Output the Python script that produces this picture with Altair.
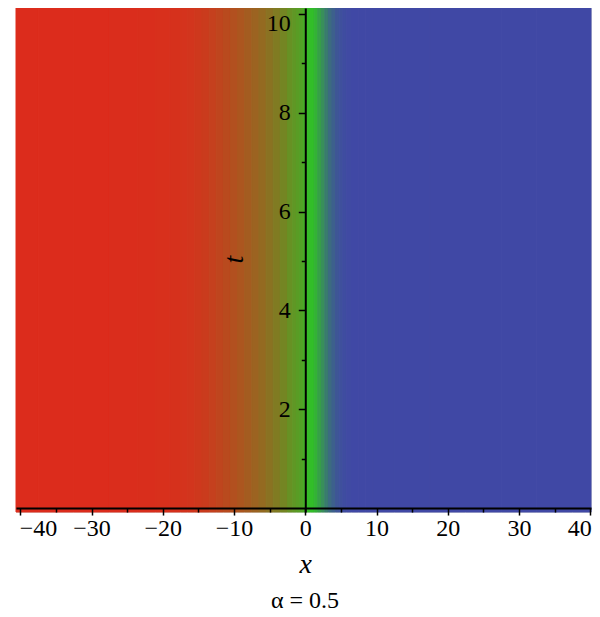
import altair as alt
import pandas as pd

# ---- data ----
X_CENTERS = [-40, -35, -30, -25, -22, -20, -18, -17, -16, -15, -14, -13, -12, -11,
             -10, -9, -8, -7, -6, -5, -4, -3, -2, -1.5, -1, -0.5, 0, 0.5, 1, 1.5,
             2, 2.5, 3, 3.5, 4, 4.5, 5, 5.5, 6, 7, 8, 9, 10, 15, 20, 25, 30, 35, 40]
U_VALUES = [1.0, 1.0, 1.0, 0.99, 0.985, 0.975, 0.965, 0.955, 0.94, 0.92, 0.895, 0.865, 0.83, 0.795,
            0.755, 0.715, 0.67, 0.625, 0.575, 0.52, 0.46, 0.39, 0.31, 0.27, 0.23, 0.19, 0.12, 0.02, 0.0, -0.1,
            -0.25, -0.4, -0.56, -0.7, -0.8, -0.88, -0.93, -0.96, -0.98, -1.0, -1.0, -1.0, -1.0, -1.0, -1.0, -1.0, -1.0, -1.0, -1.0]
X_RANGE = [-40.6, 40.1]
T_RANGE = [-0.08, 10.12]
X_MAJOR = [-40, -30, -20, -10, 0, 10, 20, 30, 40]
X_MINOR = [-35, -25, -15, -5, 5, 15, 25, 35]
T_MAJOR = [2, 4, 6, 8, 10]
T_MINOR = [1, 3, 5, 7, 9]
COLOR_DOMAIN = [-1, 0, 1]
COLOR_RANGE = ["#4048A5", "#32BE28", "#DC2C1C"]
CAPTION = "α = 0.5"

# ---- build table of vertical strips ----
edges = [X_RANGE[0]] + [(a + b) / 2 for a, b in zip(X_CENTERS[:-1], X_CENTERS[1:])] + [X_RANGE[1]]
df = pd.DataFrame({
    "x0": edges[:-1],
    "x1": edges[1:],
    "t0": [T_RANGE[0]] * len(U_VALUES),
    "t1": [T_RANGE[1]] * len(U_VALUES),
    "u": U_VALUES,
})

W, H = 575, 504
PX_X0 = W * (0 - X_RANGE[0]) / (X_RANGE[1] - X_RANGE[0])
PX_T0 = H * (T_RANGE[1] - 0) / (T_RANGE[1] - T_RANGE[0])
X_OFF = PX_T0 - H      # move x axis up to t = 0
T_OFF = -PX_X0         # move t axis right to x = 0
FONT = "Liberation Serif"

xs = alt.Scale(domain=X_RANGE, nice=False, zero=False)
ts = alt.Scale(domain=T_RANGE, nice=False, zero=False)
cs = alt.Scale(domain=COLOR_DOMAIN, range=COLOR_RANGE, interpolate="rgb")

common = dict(grid=False, tickColor="black", tickWidth=1.5, labelFlush=10,
              labelOverlap=False, domainColor="black", domainWidth=2, zindex=1)

x_major = alt.Axis(orient="bottom", offset=X_OFF, values=X_MAJOR, tickSize=7,
                   labelFont=FONT, labelFontSize=24, labelColor="black", labelPadding=1,
                   labelFlushOffset=1,
                   title="x", titleFont=FONT, titleFontSize=28, titleFontStyle="italic",
                   titleFontWeight="normal", titleColor="black", titleX=PX_X0, titleY=64,
                   titleBaseline="alphabetic", titleAlign="center", **common)
t_major = alt.Axis(orient="left", offset=T_OFF, values=T_MAJOR, tickSize=7,
                   labelFont=FONT, labelFontSize=24, labelColor="black", labelPadding=8,
                   labelFlushOffset=2,
                   title="t", titleFont=FONT, titleFontSize=28, titleFontStyle="italic",
                   titleFontWeight="normal", titleColor="black", titleX=-71, titleY=251,
                   titleBaseline="middle", titleAlign="center", titleAngle=270, **common)
x_minor = alt.Axis(orient="bottom", offset=X_OFF, values=X_MINOR, tickSize=4,
                   labels=False, domain=False, title=None, grid=False,
                   tickColor="black", tickWidth=1.5, zindex=1)
t_minor = alt.Axis(orient="left", offset=T_OFF, values=T_MINOR, tickSize=4,
                   labels=False, domain=False, title=None, grid=False,
                   tickColor="black", tickWidth=1.5, zindex=1)

strips = alt.Chart(df).mark_rect(strokeWidth=1).encode(
    x=alt.X("x0:Q", scale=xs, axis=x_major),
    x2="x1",
    y=alt.Y("t0:Q", scale=ts, axis=t_major),
    y2="t1",
    color=alt.Color("u:Q", scale=cs, legend=None),
    stroke=alt.Stroke("u:Q", scale=cs, legend=None),
)
minor = alt.Chart(df).mark_rect(opacity=0).encode(
    x=alt.X("x0:Q", scale=xs, axis=x_minor),
    x2="x1",
    y=alt.Y("t0:Q", scale=ts, axis=t_minor),
    y2="t1",
)

chart = alt.layer(strips, minor).resolve_axis(x="independent", y="independent").properties(
    width=W, height=H,
    autosize=alt.AutoSizeParams(type="none"),
    padding={"left": 8, "top": 0, "right": 1, "bottom": 100},
    title=alt.TitleParams(CAPTION, orient="bottom", anchor="middle", font=FONT, fontSize=24,
                          fontWeight="normal", color="black", offset=11, dx=1.5),
).configure_view(stroke=None).configure(background="white")

chart.save("out.html", embed_options={"renderer": "svg", "actions": False})
